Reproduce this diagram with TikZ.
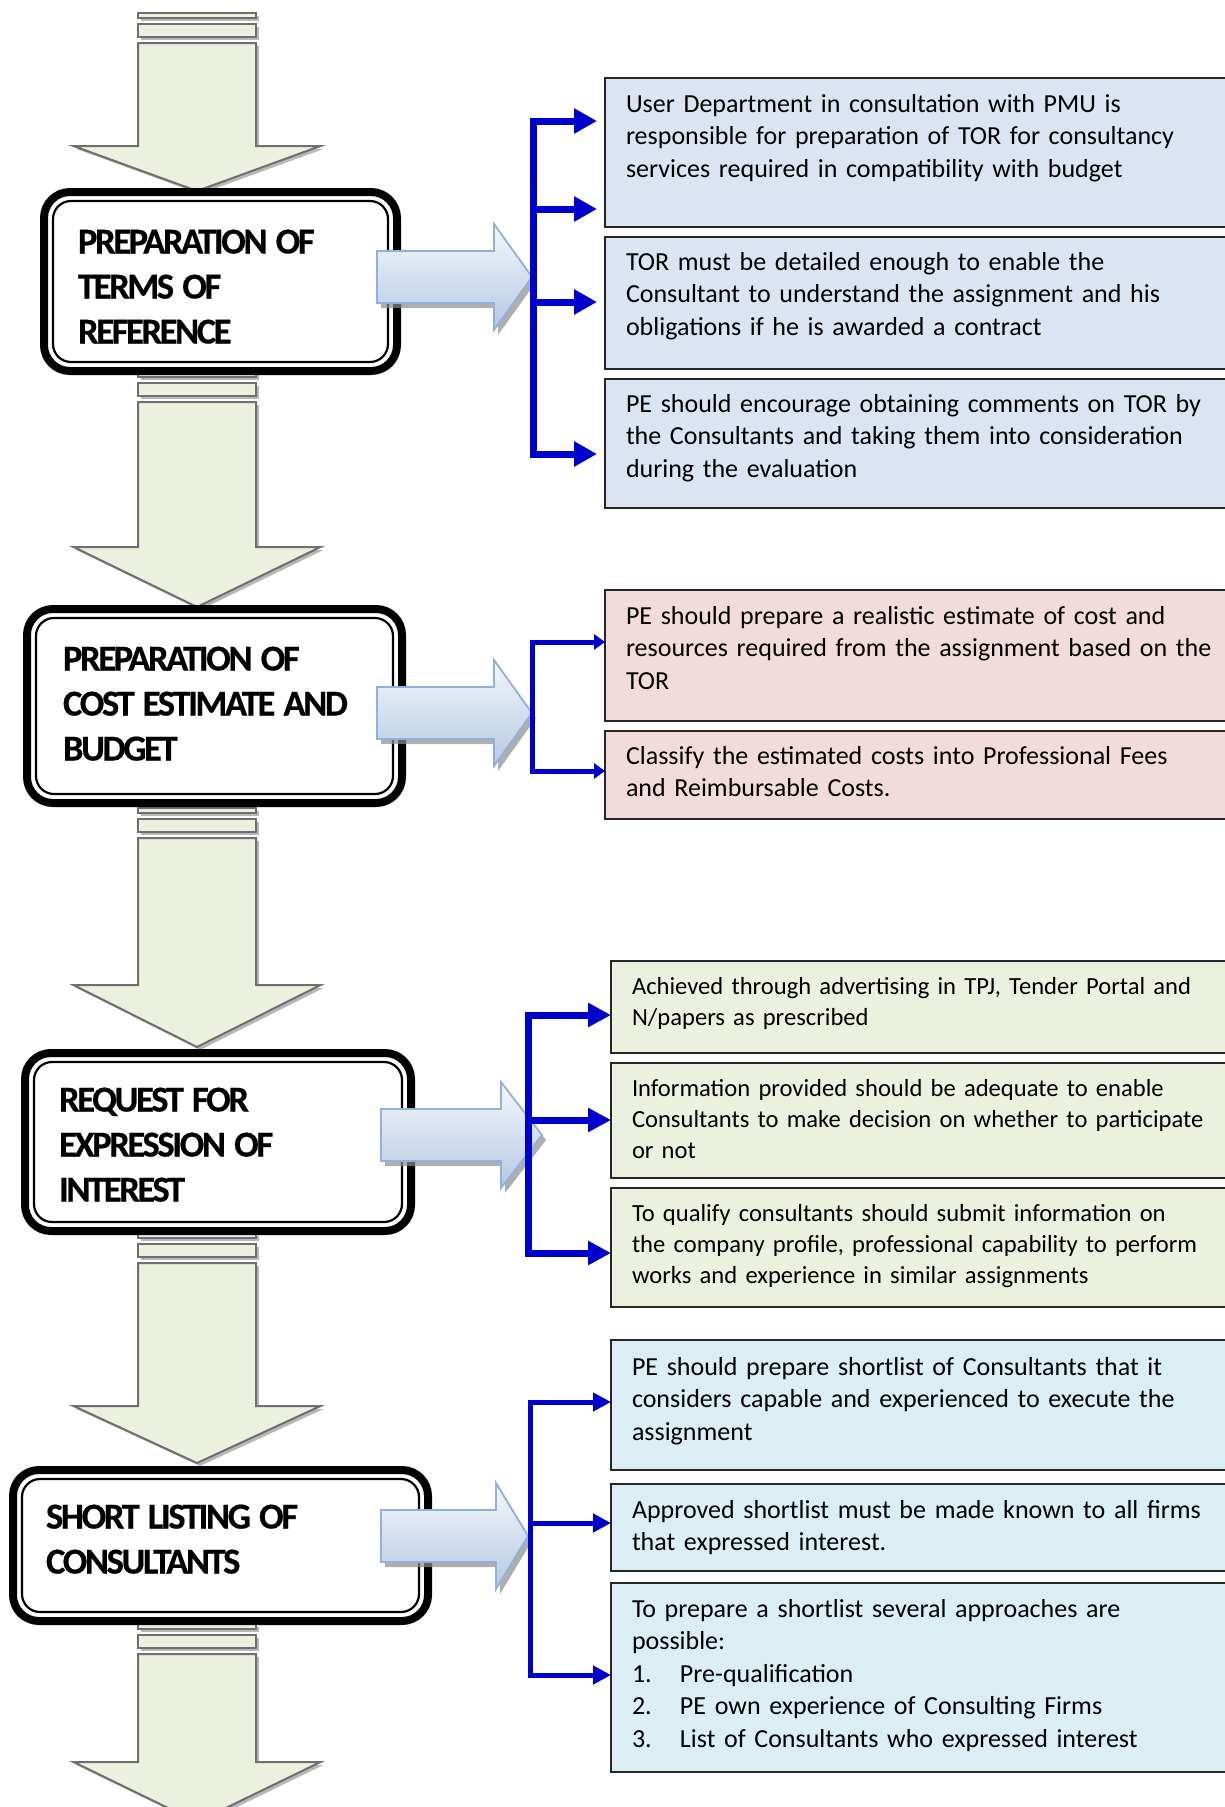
\documentclass[tikz,border=0pt]{standalone}
\usepackage{fontspec}
\setmainfont{Carlito}
\newfontfamily\headfont{Carlito}[LetterSpace=-6.5, FakeBold=0.5]
\newcommand\headstyle{\headfont\bfseries\fontsize{36.5}{45}\selectfont}
% tighter gap between heading words
\newcommand\tightsp{\kern-4pt\relax}
\usetikzlibrary{arrows.meta}

\definecolor{flowgreen}{HTML}{EBF1DE}
\definecolor{flowgray}{HTML}{6F6F6F}
\definecolor{torfill}{HTML}{DBE5F1}
\definecolor{costfill}{HTML}{F2DCDB}
\definecolor{eoifill}{HTML}{EBF1DE}
\definecolor{slfill}{HTML}{DAEEF3}
\definecolor{boxline}{HTML}{262626}
\definecolor{bracketblue}{HTML}{0000CC}
\definecolor{arrowtop}{HTML}{F5F7FB}
\definecolor{arrowbot}{HTML}{B4C8E2}
\definecolor{arrowedge}{HTML}{8FB1DA}

\tikzset{
  arrowbody/.style={fill=flowgreen, draw=flowgray, line width=2pt},
  arrowshadow/.style={fill=black!28, draw=none},
  hbox/.style={draw=black, line width=8pt, rounded corners=26pt, fill=white,
    align=left, anchor=north west, inner ysep=0pt, outer sep=0pt,
    font=\headstyle},
  tbox/.style={draw=boxline, line width=2pt, align=left, anchor=north west,
    inner xsep=21pt, inner ysep=0pt, outer sep=0pt, text width=598pt,
    font=\fontsize{26}{32.5}\selectfont},
  bline/.style={draw=bracketblue, line width=#1},
  bline/.default=7pt,
}

% striped down arrow: #1 top of main stripe, #2 bottom of shaft, #3 tip
\newcommand\flowarrow[3]{%
  \begin{scope}[shift={(3,3)}]
    \fill[arrowshadow] (138,#1-11) rectangle (256,#1-6);
    \fill[arrowshadow] (138,#1) rectangle (256,#1+13);
    \fill[arrowshadow] (138,#1+19) -- (256,#1+19) -- (256,#2) -- (320.5,#2)
      -- (197,#3) -- (73.5,#2) -- (138,#2) -- cycle;
  \end{scope}
  \filldraw[arrowbody] (138,#1-11) rectangle (256,#1-6);
  \filldraw[arrowbody] (138,#1) rectangle (256,#1+13);
  \filldraw[arrowbody] (138,#1+19) -- (256,#1+19) -- (256,#2) -- (320.5,#2)
    -- (197,#3) -- (73.5,#2) -- (138,#2) -- cycle;
}

% shaded right arrow: #1 tail x, #2 head base x, #3 tip x, #4 centre y
\newcommand\sidearrow[4]{%
  \begin{scope}[shift={(4,5)}]
    \fill[black!45, opacity=0.7] (#1,#4-26) -- (#2,#4-26) -- (#2,#4-53) -- (#3,#4)
      -- (#2,#4+53) -- (#2,#4+26) -- (#1,#4+26) -- cycle;
  \end{scope}
  \shadedraw[top color=arrowtop, bottom color=arrowbot, draw=arrowedge, line width=1.8pt]
    (#1,#4-26) -- (#2,#4-26) -- (#2,#4-53) -- (#3,#4)
    -- (#2,#4+53) -- (#2,#4+26) -- (#1,#4+26) -- cycle;
}

% thin inner rule of a heading frame
\newcommand\innerrule[1]{%
  \draw[line width=2.2pt, rounded corners=18pt]
    ([xshift=9pt,yshift=-9pt]#1.north west) rectangle ([xshift=-9pt,yshift=9pt]#1.south east);
}

\begin{document}
\begin{tikzpicture}[x=1pt, y=-1pt]
\useasboundingbox (0,0) rectangle (1225,1807);
\clip (0,0) rectangle (1225,1807);

% ---- flow of down arrows ----
\flowarrow{24}{146}{191}
\flowarrow{383}{547}{607}
\flowarrow{819}{985}{1047}
\flowarrow{1244}{1406}{1463}
\flowarrow{1635}{1762}{1822}

% ---- stage headings ----
\node[hbox, inner xsep=34pt, text width=285pt, text height=61.5pt, text depth=117.5pt]
  (h1) at (44,192) {PREPARATION \tightsp OF\\TERMS \tightsp OF\\REFERENCE};
\innerrule{h1}
\node[hbox, inner xsep=36pt, text width=303pt, text height=61.5pt, text depth=132.5pt]
  (h2) at (27,609) {PREPARATION \tightsp OF\\COST \tightsp ESTIMATE \tightsp AND\\BUDGET};
\innerrule{h2}
\node[hbox, inner xsep=34pt, text width=318pt, text height=58.5pt, text depth=119.5pt]
  (h3) at (25,1053) {REQUEST \tightsp FOR\\EXPRESSION \tightsp OF\\INTEREST};
\innerrule{h3}
\node[hbox, inner xsep=33pt, text width=349pt, text height=58.5pt, text depth=92.5pt]
  (h4) at (13,1470) {SHORT \tightsp LISTING \tightsp OF\\CONSULTANTS};
\innerrule{h4}

% ---- shaded arrows out of each stage ----
\sidearrow{377}{494}{532}{277}
\sidearrow{377}{494}{532}{713}
\sidearrow{381}{501}{542}{1135}
\sidearrow{381}{496}{528}{1536}

% ---- explanation boxes ----
\node[tbox, fill=torfill, text height=34pt, text depth=115pt] (t1) at (605,78)
  {User Department in consultation with PMU is\\responsible for preparation of TOR for consultancy\\services required in compatibility with budget};
\node[tbox, fill=torfill, text height=33pt, text depth=99pt] (t2) at (605,237)
  {TOR must be detailed enough to enable the\\Consultant to understand the assignment and his\\obligations if he is awarded a contract};
\node[tbox, fill=torfill, text height=33pt, text depth=96pt] (t3) at (605,379)
  {PE should encourage obtaining comments on TOR by\\the Consultants and taking them into consideration\\during the evaluation};

\node[tbox, fill=costfill, text height=34pt, text depth=97pt] (c1) at (605,590)
  {PE should prepare a realistic estimate of cost and\\resources required from the assignment based on the\\TOR};
\node[tbox, fill=costfill, text height=33pt, text depth=55pt] (c2) at (605,731)
  {Classify the estimated costs into Professional Fees\\and Reimbursable Costs.};

\begin{scope}[tbox/.append style={font=\fontsize{24.6}{31}\selectfont}]
\node[tbox, fill=eoifill, text height=33pt, text depth=59pt] (e1) at (611,961)
  {Achieved through advertising in TPJ, Tender Portal and\\N/papers as prescribed};
\node[tbox, fill=eoifill, text height=33pt, text depth=82pt] (e2) at (611,1063)
  {Information provided should be adequate to enable\\Consultants to make decision on whether to participate\\or not};
\node[tbox, fill=eoifill, text height=33pt, text depth=86pt] (e3) at (611,1188)
  {To qualify consultants should submit information on\\the company profile, professional capability to perform\\works and experience in similar assignments};
\end{scope}

\node[tbox, fill=slfill, text height=35pt, text depth=95pt] (s1) at (611,1340)
  {PE should prepare shortlist of Consultants that it\\considers capable and experienced to execute the\\assignment};
\node[tbox, fill=slfill, text height=34pt, text depth=53pt] (s2) at (611,1484)
  {Approved shortlist must be made known to all firms\\that expressed interest.};
\node[tbox, fill=slfill, text height=34pt, text depth=155pt] (s3) at (611,1583)
  {To prepare a shortlist several approaches are\\possible:\\
   \makebox[48pt][l]{1.}Pre-qualification\\
   \makebox[48pt][l]{2.}PE own experience of Consulting Firms\\
   \makebox[48pt][l]{3.}List of Consultants who expressed interest};

% ---- blue brackets ----
% terms of reference
\coordinate (ta) at (533,121);
\coordinate (tb) at (533,209);
\coordinate (tc) at (533,302);
\coordinate (td) at (533,454);
\draw[bline, line cap=rect] (ta) -- (td);
\begin{scope}[bline, -{Triangle[length=23pt, width=24pt]}, shorten >=8pt]
  \draw (ta) -- (ta -| t1.west);
  \draw (tb) -- (tb -| t1.west);
  \draw (tc) -- (tc -| t2.west);
  \draw (td) -- (td -| t3.west);
\end{scope}
% cost estimate
\coordinate (ca) at (532,642);
\coordinate (cb) at (532,771);
\draw[bline=5pt, line cap=rect] (ca) -- (cb);
\begin{scope}[bline=5pt, -{Triangle[length=11pt, width=15pt]}]
  \draw (ca) -- (ca -| c1.west);
  \draw (cb) -- (cb -| c2.west);
\end{scope}
% expression of interest
\coordinate (ea) at (528,1015);
\coordinate (eb) at (528,1120);
\coordinate (ec) at (528,1253);
\draw[bline, line cap=rect] (ea) -- (ec);
\begin{scope}[bline, -{Triangle[length=23pt, width=23pt]}]
  \draw (ea) -- (ea -| e1.west);
  \draw (eb) -- (eb -| e2.west);
  \draw (ec) -- (ec -| e3.west);
\end{scope}
% short listing
\coordinate (sa) at (530,1402);
\coordinate (sb) at (530,1523);
\coordinate (sc) at (530,1675);
\draw[bline=5pt, line cap=rect] (sa) -- (sc);
\begin{scope}[bline=5pt, -{Triangle[length=18pt, width=18pt]}]
  \draw (sa) -- (sa -| s1.west);
  \draw (sb) -- (sb -| s2.west);
  \draw (sc) -- (sc -| s3.west);
\end{scope}
\end{tikzpicture}
\end{document}
